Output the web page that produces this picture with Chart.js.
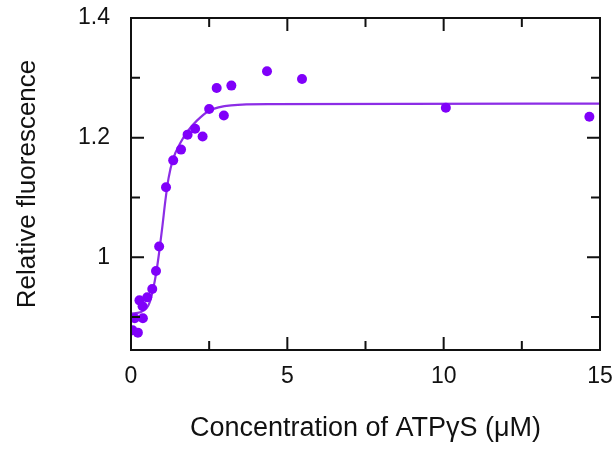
<!DOCTYPE html>
<html>
<head>
<meta charset="utf-8">
<script src="https://cdn.jsdelivr.net/npm/chart.js@4"></script>
<style>
  body { margin: 0; background: #fff; }
  #wrap { width: 616px; height: 450px; }
</style>
</head>
<body>
<div id="wrap"><canvas id="fluo" width="616" height="450"></canvas></div>
<script>
// measured points (ATPgS concentration in uM, relative fluorescence)
var concX = [0.05, 0.12, 0.22, 0.27, 0.37, 0.38, 0.52, 0.68, 0.80, 0.90,
             1.12, 1.35, 1.60, 1.81, 2.05, 2.29, 2.50, 2.74, 2.97, 3.21,
             4.35, 5.47, 10.07, 14.66];
var fluoY = [0.878, 0.898, 0.874, 0.928, 0.918, 0.898, 0.933, 0.947, 0.977, 1.018,
             1.117, 1.162, 1.180, 1.205, 1.215, 1.202, 1.248, 1.283, 1.237, 1.287,
             1.311, 1.298, 1.250, 1.235];

// fitted curve
var fitX = [0, 0.3, 0.5, 0.6, 0.7, 0.8, 0.9, 1.0, 1.1, 1.2, 1.35, 1.6, 1.8, 2.1, 2.5, 3.2, 4.5, 15];
var fitY = [0.906, 0.908, 0.915, 0.925, 0.945, 0.972, 1.008, 1.05, 1.095, 1.132, 1.165, 1.193, 1.21, 1.228, 1.245, 1.254, 1.256, 1.257];

var xMajor = [0, 5, 10, 15];
var xMinor = [2.5, 7.5, 12.5];
var yMajor = [1, 1.2, 1.4];
var yMinor = [0.9, 1.1, 1.3];

var pointColor = 'rgb(128,0,250)';
var lineColor = 'rgb(140,45,230)';
var font = "'Liberation Sans', Arial, sans-serif";

function toXY(xs, ys) {
    return xs.map(function (x, i) { return { x: x, y: ys[i] }; });
}

// no extra room for labels hanging past the plot edges
function noPad(s) {
    s.paddingTop = 0; s.paddingBottom = 0;
    s.paddingLeft = 0; s.paddingRight = 0;
}

// frame with inward ticks on all four sides
var framePlugin = {
    id: 'frame',
    afterDraw: function (chart) {
        var ctx = chart.ctx, a = chart.chartArea;
        var sx = chart.scales.x, sy = chart.scales.y;
        ctx.save();
        ctx.strokeStyle = '#111';
        ctx.lineWidth = 2;
        ctx.strokeRect(a.left, a.top, a.right - a.left, a.bottom - a.top);
        ctx.beginPath();
        function xt(v, len) {
            var p = sx.getPixelForValue(v);
            ctx.moveTo(p, a.bottom); ctx.lineTo(p, a.bottom - len);
            ctx.moveTo(p, a.top); ctx.lineTo(p, a.top + len);
        }
        function yt(v, len) {
            var p = sy.getPixelForValue(v);
            ctx.moveTo(a.left, p); ctx.lineTo(a.left + len, p);
            ctx.moveTo(a.right, p); ctx.lineTo(a.right - len, p);
        }
        xMajor.forEach(function (v) { xt(v, 13); });
        xMinor.forEach(function (v) { xt(v, 9); });
        yMajor.forEach(function (v) { yt(v, 13); });
        yMinor.forEach(function (v) { yt(v, 9); });
        ctx.stroke();
        ctx.restore();
    }
};

var ctx = document.getElementById('fluo').getContext('2d');

var fluoChart = new Chart(ctx, {
    type: 'scatter',
    data: {
        datasets: [{
            label: 'fit',
            data: toXY(fitX, fitY),
            showLine: true,
            borderColor: lineColor,
            borderWidth: 2.2,
            pointRadius: 0,
            cubicInterpolationMode: 'monotone',
            order: 2
        }, {
            label: 'data',
            data: toXY(concX, fluoY),
            backgroundColor: pointColor,
            borderColor: pointColor,
            borderWidth: 0,
            pointRadius: 5,
            order: 1
        }]
    },
    options: {
        responsive: false,
        animation: false,
        layout: { padding: { left: 0, right: 16, top: 18, bottom: 0 } },
        plugins: {
            legend: { display: false },
            tooltip: { enabled: false }
        },
        scales: {
            x: {
                type: 'linear',
                min: 0,
                max: 15,
                afterBuildTicks: function (s) { s.ticks = xMajor.map(function (v) { return { value: v }; }); },
                afterFit: function (s) { s.height = 100; noPad(s); },
                grid: { display: false, drawTicks: false },
                border: { display: false },
                ticks: {
                    padding: 13,
                    color: '#111',
                    maxRotation: 0,
                    font: { family: font, size: 23 }
                },
                title: {
                    display: true,
                    text: 'Concentration of ATPγS (μM)',
                    color: '#111',
                    font: { family: font, size: 27 },
                    padding: { top: 0, bottom: 5 }
                }
            },
            y: {
                type: 'linear',
                min: 0.845,
                max: 1.4,
                afterBuildTicks: function (s) { s.ticks = yMajor.map(function (v) { return { value: v }; }); },
                afterFit: function (s) { s.width = 131; noPad(s); },
                grid: { display: false, drawTicks: false },
                border: { display: false },
                ticks: {
                    padding: 21,
                    color: '#111',
                    font: { family: font, size: 23 },
                    callback: function (v) { return String(v); }
                },
                title: {
                    display: true,
                    text: 'Relative fluorescence',
                    color: '#111',
                    font: { family: font, size: 26 },
                    padding: { top: 12, bottom: 0 }
                }
            }
        }
    },
    plugins: [framePlugin]
});
</script>
</body>
</html>
